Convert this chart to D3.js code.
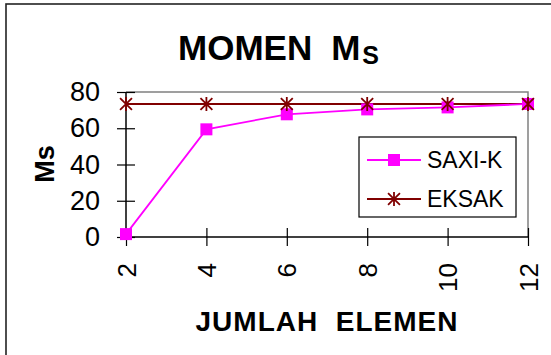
<!DOCTYPE html>
<html>
<head>
<meta charset="utf-8">
<script src="https://cdn.jsdelivr.net/npm/d3@7"></script>
<style>
  html, body { margin: 0; padding: 0; background: #fff; }
  svg { display: block; font-family: "Liberation Sans", Arial, sans-serif; }
</style>
</head>
<body>
<svg id="chart" width="551" height="355"></svg>
<script>
// Number of elements (x categories)
const elements = [2, 4, 6, 8, 10, 12];
// Moment Ms from the SAXI-K approximation
const saxiK = [1.6, 59.4, 67.7, 70.4, 71.5, 73.4];
// Exact moment Ms
const eksak = [73.4, 73.4, 73.4, 73.4, 73.4, 73.4];
const yTicks = [0, 20, 40, 60, 80];
const seriesNames = ["SAXI-K", "EKSAK"];

const svg = d3.select("#chart");

const x = d3.scaleLinear().domain([2, 12]).range([126, 528]);
const y = d3.scaleLinear().domain([0, 80]).range([237, 92]);

// outer frame
svg.append("rect")
  .attr("x", 6).attr("y", 4)
  .attr("width", 560).attr("height", 370)
  .attr("fill", "none").attr("stroke", "#222").attr("stroke-width", 1.6);

// title
const title = svg.append("text")
  .attr("x", 178).attr("y", 60)
  .attr("font-weight", "bold").attr("font-size", 35)
  .attr("fill", "#000");
title.append("tspan").text("MOMEN");
title.append("tspan").attr("dx", 19).text("M");
title.append("tspan").attr("font-size", 25).attr("dx", 2).attr("dy", 4).text("S");

// plot border (top and right)
svg.append("path")
  .attr("d", `M${x(2)},${y(80)}H${x(12)}V${y(0)}`)
  .attr("fill", "none").attr("stroke", "#808080").attr("stroke-width", 1.5);

// y axis
const yAxis = d3.axisLeft(y).tickValues(yTicks).tickSize(0).tickPadding(0).tickFormat(d3.format("d"));
const gy = svg.append("g").attr("transform", `translate(${x(2)},0)`).call(yAxis);
gy.select(".domain").remove();
gy.selectAll(".tick text")
  .attr("x", -26).attr("font-size", 27).attr("fill", "#000")
  .attr("font-family", "Liberation Sans, Arial, sans-serif");
gy.selectAll(".tick line")
  .attr("x1", -9).attr("x2", 9).attr("stroke", "#000").attr("stroke-width", 1.2);
svg.append("line")
  .attr("x1", x(2)).attr("x2", x(2)).attr("y1", y(80)).attr("y2", y(0))
  .attr("stroke", "#000").attr("stroke-width", 1.5);

// x axis
const xAxis = d3.axisBottom(x).tickValues(elements).tickSize(0).tickPadding(0).tickFormat(d3.format("d"));
const gx = svg.append("g").attr("transform", `translate(0,${y(0)})`).call(xAxis);
gx.select(".domain").remove();
gx.selectAll(".tick line")
  .attr("y1", -9).attr("y2", 9).attr("stroke", "#000").attr("stroke-width", 1.2);
gx.selectAll(".tick text")
  .attr("font-size", 26).attr("fill", "#000")
  .attr("font-family", "Liberation Sans, Arial, sans-serif")
  .attr("text-anchor", "end").attr("dy", null)
  .attr("transform", "translate(9,26) rotate(-90)")
  .attr("x", 0).attr("y", 0);
svg.append("line")
  .attr("x1", x(2)).attr("x2", x(12)).attr("y1", y(0)).attr("y2", y(0))
  .attr("stroke", "#000").attr("stroke-width", 1.5);

// axis titles
svg.append("text")
  .attr("x", 327).attr("y", 331).attr("text-anchor", "middle")
  .attr("font-weight", "bold").attr("font-size", 28).attr("fill", "#000")
  .attr("letter-spacing", 1)
  .attr("xml:space", "preserve")
  .text("JUMLAH  ELEMEN");
svg.append("text")
  .attr("transform", "translate(54,164) rotate(-90)")
  .attr("text-anchor", "middle")
  .attr("font-weight", "bold").attr("font-size", 27).attr("fill", "#000")
  .text("Ms");

// series
const line = d3.line().x((d, i) => x(elements[i])).y(d => y(d));
const magenta = "#ff00ff", darkRed = "#800000";

function starPath(cx, cy, r) {
  const a = r * 0.85;
  return `M${cx - a},${cy - a}L${cx + a},${cy + a}M${cx - a},${cy + a}L${cx + a},${cy - a}M${cx},${cy - r}V${cy + r}`;
}

svg.append("path").datum(eksak).attr("d", line)
  .attr("fill", "none").attr("stroke", darkRed).attr("stroke-width", 2);
svg.append("path").datum(saxiK).attr("d", line)
  .attr("fill", "none").attr("stroke", magenta).attr("stroke-width", 1.8);

svg.append("g").selectAll("rect").data(saxiK).join("rect")
  .attr("x", (d, i) => x(elements[i]) - 6)
  .attr("y", d => y(d) - 6)
  .attr("width", 12).attr("height", 12)
  .attr("fill", magenta);

svg.append("g").selectAll("path").data(eksak).join("path")
  .attr("d", (d, i) => starPath(x(elements[i]), y(d), 7))
  .attr("stroke", darkRed).attr("stroke-width", 1.8).attr("fill", "none");

// legend
const lg = svg.append("g");
lg.append("rect")
  .attr("x", 359).attr("y", 137).attr("width", 157).attr("height", 80)
  .attr("fill", "#fff").attr("stroke", "#000").attr("stroke-width", 1.2);
const rows = [
  { name: seriesNames[0], color: magenta, y: 160, kind: "square" },
  { name: seriesNames[1], color: darkRed, y: 199, kind: "star" }
];
rows.forEach(r => {
  lg.append("line")
    .attr("x1", 367).attr("x2", 421).attr("y1", r.y).attr("y2", r.y)
    .attr("stroke", r.color).attr("stroke-width", 2);
  if (r.kind === "square") {
    lg.append("rect").attr("x", 394 - 6).attr("y", r.y - 6)
      .attr("width", 12).attr("height", 12).attr("fill", r.color);
  } else {
    lg.append("path").attr("d", starPath(394, r.y, 7))
      .attr("stroke", r.color).attr("stroke-width", 1.8).attr("fill", "none");
  }
  lg.append("text")
    .attr("x", 427).attr("y", r.y + 8)
    .attr("font-size", 23).attr("fill", "#000")
    .text(r.name);
});
</script>
</body>
</html>
